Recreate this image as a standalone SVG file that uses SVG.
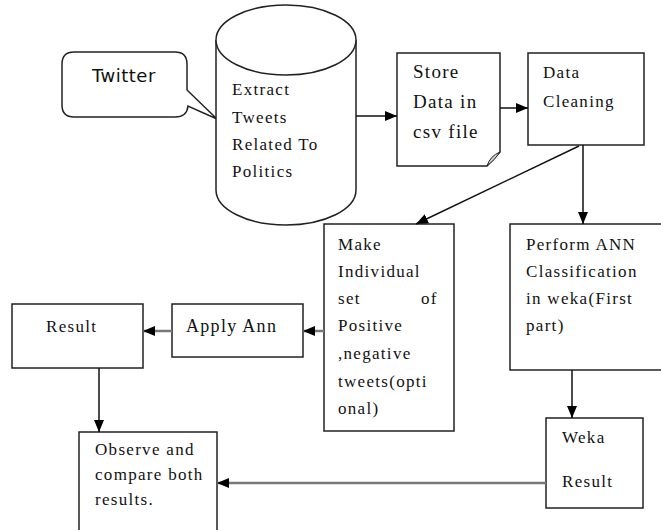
<svg xmlns="http://www.w3.org/2000/svg" width="661" height="530" viewBox="0 0 661 530">
<defs>
<marker id="ah" viewBox="0 0 12 10" refX="12" refY="5" markerWidth="12" markerHeight="10" markerUnits="userSpaceOnUse" orient="auto">
<path d="M0,0 L12,5 L0,10 Z" fill="#000"/>
</marker>
</defs>
<style>
.box{fill:#fff;stroke:#222;stroke-width:1.5}
.t{font-family:"Liberation Serif","Times New Roman",serif;font-size:17px;letter-spacing:1.3px;fill:#111}
.s{font-family:"DejaVu Sans",Verdana,sans-serif;font-size:18px;fill:#111}
.c{stroke:#111;stroke-width:1.5;fill:none}
.g{stroke:#777;stroke-width:2.5;fill:none}
</style>
<rect width="661" height="530" fill="#fff"/>
<g id="twitter">
<path class="box" d="M74,52 H175 Q187,52 187,64 V90 L217,119 L188,106 Q187,117 175,117 H74 Q62,117 62,105 V64 Q62,52 74,52 Z"/>
<text class="s" x="92" y="82" letter-spacing="0.5">Twitter</text>
</g>
<g id="extract">
<path class="box" d="M216,40 V190 A70,35 0 0 0 356,190 V40"/>
<ellipse class="box" cx="286" cy="40" rx="70" ry="35"/>
<text class="t" letter-spacing="1.6"><tspan x="232" y="95">Extract</tspan><tspan x="232" y="123">Tweets</tspan><tspan x="232" y="150">Related To</tspan><tspan x="232" y="177">Politics</tspan></text>
</g>
<g id="store">
<path class="box" d="M397,53 H500 V152 L487,166 H397 Z"/>
<path d="M487,166 Q490,156 500,152 Q495,160 487,166 Z" fill="#ccc" stroke="#222" stroke-width="1"/>
<text class="t" style="font-size:19px" letter-spacing="1"><tspan x="413" y="78">Store</tspan><tspan x="413" y="108">Data in</tspan><tspan x="413" y="138">csv file</tspan></text>
</g>
<g id="cleaning">
<rect class="box" x="528" y="53" width="116" height="92"/>
<text class="t" letter-spacing="1.5"><tspan x="543" y="78">Data</tspan><tspan x="543" y="107">Cleaning</tspan></text>
</g>
<g id="make">
<rect class="box" x="324" y="224" width="130" height="207"/>
<text class="t" letter-spacing="1.2"><tspan x="338" y="250">Make</tspan><tspan x="338" y="277">Individual</tspan><tspan x="338" y="304">set</tspan><tspan x="421" y="304">of</tspan><tspan x="338" y="331">Positive</tspan><tspan x="338" y="359">,negative</tspan><tspan x="338" y="387">tweets(opti</tspan><tspan x="338" y="414">onal)</tspan></text>
</g>
<g id="perform">
<rect class="box" x="510" y="224" width="152" height="146"/>
<text class="t"><tspan x="526" y="250">Perform ANN</tspan><tspan x="526" y="277">Classification</tspan><tspan x="526" y="304">in weka(First</tspan><tspan x="526" y="331">part)</tspan></text>
</g>
<g id="apply">
<rect class="box" x="172" y="304" width="131" height="53"/>
<text class="t" style="font-size:18px" letter-spacing="1.4" x="186" y="332">Apply Ann</text>
</g>
<g id="result">
<rect class="box" x="12" y="304" width="131" height="64"/>
<text class="t" x="46" y="332">Result</text>
</g>
<g id="weka">
<rect class="box" x="546" y="418" width="97" height="90"/>
<text class="t" letter-spacing="0.6"><tspan x="562" y="443">Weka</tspan><tspan x="562" y="487">Result</tspan></text>
</g>
<g id="observe">
<rect class="box" x="79" y="432" width="138" height="110"/>
<text class="t" letter-spacing="0.8"><tspan x="95" y="455">Observe and</tspan><tspan x="95" y="480">compare both</tspan><tspan x="95" y="505">results.</tspan></text>
</g>
<g id="connectors">
<line class="c" x1="356" y1="116" x2="397" y2="116" marker-end="url(#ah)"/>
<line class="c" x1="500" y1="108" x2="528" y2="108" marker-end="url(#ah)"/>
<line class="c" x1="579" y1="146" x2="416" y2="224" marker-end="url(#ah)"/>
<line class="c" x1="583" y1="145" x2="583" y2="224" marker-end="url(#ah)"/>
<line class="c" x1="572" y1="370" x2="572" y2="418" marker-end="url(#ah)"/>
<line class="g" x1="324" y1="331" x2="303" y2="331" marker-end="url(#ah)"/>
<line class="g" x1="172" y1="331" x2="143" y2="331" marker-end="url(#ah)"/>
<line class="c" x1="99" y1="368" x2="99" y2="432" marker-end="url(#ah)"/>
<line class="g" x1="546" y1="483" x2="217" y2="483" marker-end="url(#ah)"/>
</g>
</svg>
